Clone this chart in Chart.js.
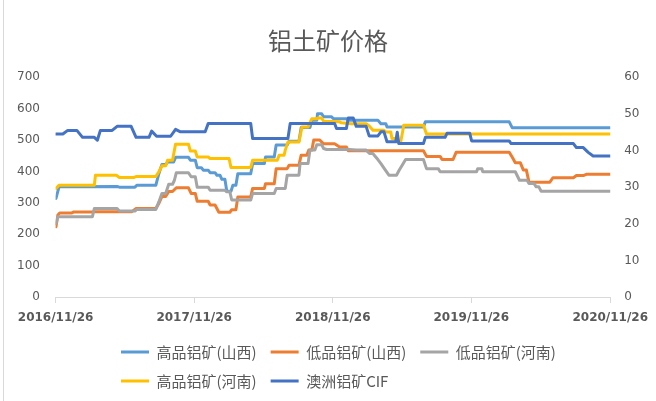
<!DOCTYPE html>
<html>
<head>
<meta charset="utf-8">
<script src="https://cdn.jsdelivr.net/npm/chart.js@4.4.0/dist/chart.umd.min.js"></script>
<style>
html, body { margin: 0; padding: 0; background: #fff; }
canvas { display: block; }
</style>
</head>
<body>
<canvas id="myChart" width="656" height="401"></canvas>
<script>
// x positions are days counted from 2016/11/26
var tickLabels = ['2016/11/26', '2017/11/26', '2018/11/26', '2019/11/26', '2020/11/26'];
var seriesNames = ['高品铝矿(山西)', '低品铝矿(山西)', '低品铝矿(河南)', '高品铝矿(河南)', '澳洲铝矿CIF'];

var shanxiHighDays = [1,9,162,168,209,214,264,272,280,290,295,311,316,350,355,368,373,384,389,402,407,420,425,433,438,446,451,462,467,475,480,514,519,550,553,576,581,610,615,641,647,670,675,688,690,701,706,727,732,766,771,849,857,870,873,969,974,1195,1203,1461];
var shanxiHighValues = [314,351,352,350,350,356,356,393,422,422,430,430,445,445,436,436,412,412,404,404,396,396,388,388,375,375,337,337,356,356,393,393,425,425,446,446,484,484,496,496,540,540,563,563,584,584,574,574,568,568,563,563,552,552,542,542,558,558,539,539];

var shanxiLowDays = [1,6,11,43,48,97,102,201,212,264,272,280,290,298,308,318,350,357,368,373,402,407,420,430,459,464,475,480,514,519,550,553,576,581,610,615,641,647,662,667,675,680,696,706,735,748,766,771,969,977,1013,1018,1047,1055,1195,1203,1211,1224,1232,1240,1247,1302,1310,1364,1372,1390,1398,1461];
var shanxiLowValues = [224,261,268,268,271,271,272,272,282,282,298,320,320,336,336,348,348,330,330,305,305,293,293,270,270,278,278,319,319,346,346,361,361,409,409,420,420,452,452,468,468,500,500,488,488,478,478,466,466,448,448,438,438,461,461,445,428,428,405,405,366,366,380,380,387,387,391,391];

var henanLowDays = [1,6,97,102,162,168,209,214,264,272,280,290,298,308,313,318,350,357,368,373,402,407,446,451,459,464,514,519,576,581,605,610,641,644,665,670,683,688,701,706,714,774,792,818,827,836,840,849,857,866,878,898,905,913,922,969,977,1008,1013,1109,1112,1123,1125,1211,1222,1242,1247,1260,1266,1273,1279,1461];
var henanLowValues = [234,256,256,282,282,274,274,279,279,303,330,330,359,359,372,396,396,383,383,350,350,340,340,335,335,309,309,330,330,346,346,388,388,425,425,468,468,485,485,473,470,470,468,468,457,457,451,438,425,409,388,388,404,420,438,438,409,409,399,399,409,409,399,399,372,372,362,362,351,351,337,337];

var henanHighDays = [1,9,102,105,160,168,207,212,264,272,280,290,295,308,316,350,355,368,373,402,407,457,462,514,519,584,589,602,605,612,641,649,665,675,688,690,701,706,748,753,779,818,826,836,865,870,883,886,896,899,909,914,917,969,977,1461];
var henanHighValues = [346,356,356,388,388,381,381,384,384,399,418,418,436,436,487,487,465,465,446,446,441,441,413,413,436,436,452,452,468,494,494,542,542,568,568,570,570,560,558,555,552,552,545,531,531,526,526,505,505,494,494,526,547,547,519,519];

// 澳洲铝矿CIF, right axis
var cifDays = [0,19,32,56,71,102,110,118,149,162,199,212,246,253,266,303,316,329,394,402,514,519,612,618,735,740,766,771,784,792,818,826,849,857,865,873,896,900,904,969,974,1026,1031,1091,1096,1195,1200,1364,1372,1390,1403,1416,1461];
var cifValues = [44.5,44.5,45.5,45.5,43.6,43.6,42.8,45.5,45.5,46.6,46.6,43.6,43.6,45.3,43.9,43.9,45.8,45.1,45.1,47.4,47.4,43.3,43.3,47.4,47.4,46.0,46.0,48.9,48.9,46.6,46.6,44.0,44.0,45.1,45.1,42.4,42.4,45.0,41.9,41.9,43.6,43.6,44.7,44.7,42.6,42.6,41.9,41.9,40.8,40.8,39.5,38.5,38.5];

var colours = ['#5B9BD5', '#ED7D31', '#A5A5A5', '#FFC000', '#4472C4'];
var textColour = '#595959';
var cjkFont = "'Noto Sans CJK SC', sans-serif";

var startDay = Date.UTC(2016, 10, 26);
var tickDays = tickLabels.map(function(s) {
    var p = s.split('/');
    return Math.round((Date.UTC(+p[0], +p[1] - 1, +p[2]) - startDay) / 86400000);
});

function toPoints(days, values) {
    return days.map(function(d, i) { return {x: d, y: values[i]}; });
}

var allDays = [shanxiHighDays, shanxiLowDays, henanLowDays, henanHighDays, cifDays];
var allValues = [shanxiHighValues, shanxiLowValues, henanLowValues, henanHighValues, cifValues];

var datasets = [];
for (var i = 0; i < seriesNames.length; i++) {
    datasets.push({
        label: seriesNames[i],
        data: toPoints(allDays[i], allValues[i]),
        yAxisID: i === 4 ? 'y1' : 'y',
        borderColor: colours[i],
        backgroundColor: colours[i],
        pointBorderColor: colours[i],
        pointBorderWidth: 3,
        borderWidth: 3,
        borderJoinStyle: 'round',
        borderCapStyle: 'round',
        pointRadius: 0,
        pointHoverRadius: 0,
        tension: 0,
        fill: false,
        order: 4 - i   // later series drawn on top, like the original
    });
}

var framePlugin = {
    id: 'frame',
    beforeDraw: function(chart) {
        var c = chart.ctx;
        c.save();
        c.fillStyle = '#ffffff';
        c.fillRect(0, 0, chart.width, chart.height);
        c.strokeStyle = '#D9D9D9';
        c.lineWidth = 1;
        c.beginPath();
        c.moveTo(3.5, 0);
        c.lineTo(3.5, chart.height);
        c.stroke();
        c.restore();
    }
};

// legend rows start at the same x, as in the original
var legendShift = {
    id: 'legendShift',
    afterLayout: function(chart) {
        chart.legend.left = 107;
        chart.legend.right = 640;
    }
};

var ctx = document.getElementById('myChart');
var myChart = new Chart(ctx, {
    type: 'line',
    data: {datasets: datasets},
    options: {
        responsive: false,
        animation: false,
        devicePixelRatio: 1,
        layout: {padding: {top: 0, left: 0, right: 0, bottom: 2.5}},
        plugins: {
            title: {
                display: true,
                text: '铝土矿价格',
                color: textColour,
                font: {family: cjkFont, size: 24, weight: 'normal'},
                padding: {top: 26, bottom: 22.5}
            },
            legend: {
                position: 'bottom',
                align: 'start',
                fullSize: false,
                labels: {
                    usePointStyle: true,
                    pointStyle: 'line',
                    pointStyleWidth: 28,
                    padding: 14,
                    color: textColour,
                    font: {family: cjkFont, size: 15},
                    sort: function(a, b) { return a.datasetIndex - b.datasetIndex; }
                }
            },
            tooltip: {enabled: false}
        },
        scales: {
            x: {
                type: 'linear',
                min: 0,
                max: tickDays[tickDays.length - 1],
                afterBuildTicks: function(scale) {
                    scale.ticks = tickDays.map(function(v) { return {value: v}; });
                },
                afterFit: function(scale) { scale.height = 33.5; },
                grid: {display: true, drawOnChartArea: false, drawTicks: true, tickLength: 6, color: '#D9D9D9'},
                border: {display: true, color: '#D9D9D9', width: 1},
                ticks: {
                    color: textColour,
                    font: {family: 'DejaVu Sans', size: 12, weight: 'bold'},
                    padding: 8,
                    maxRotation: 0,
                    autoSkip: false,
                    callback: function(v) {
                        var k = tickDays.indexOf(v);
                        return k >= 0 ? tickLabels[k] : '';
                    }
                }
            },
            y: {
                position: 'left',
                min: 0,
                max: 700,
                afterFit: function(scale) { scale.width = 55.6; },
                grid: {display: false, drawTicks: false},
                border: {display: false},
                ticks: {stepSize: 100, color: textColour, font: {family: 'DejaVu Sans', size: 12}, padding: 15.6}
            },
            y1: {
                position: 'right',
                min: 0,
                max: 60,
                afterFit: function(scale) { scale.width = 39; },
                grid: {display: false, drawTicks: false},
                border: {display: false},
                ticks: {stepSize: 10, color: textColour, font: {family: 'DejaVu Sans', size: 12}, padding: 14}
            }
        }
    },
    plugins: [framePlugin, legendShift]
});
</script>
</body>
</html>
